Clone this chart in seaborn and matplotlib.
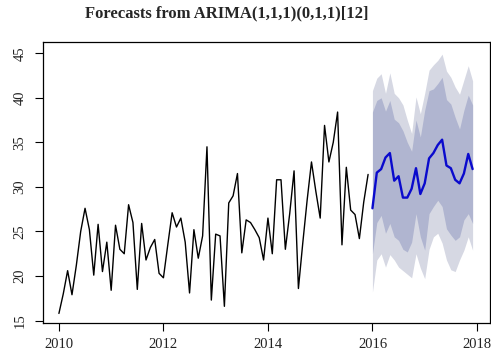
import matplotlib
matplotlib.use('Agg')
import matplotlib.pyplot as plt
import numpy as np
import pandas as pd
import seaborn as sns

# monthly observations, Jan 2010 - Dec 2015
observed = [15.8, 18.0, 20.6, 17.9, 21.2, 25.0, 27.6, 25.2, 20.1, 25.8, 20.5, 23.8,
            18.4, 25.7, 23.0, 22.5, 28.0, 26.0, 18.5, 25.9, 21.8, 23.2, 24.1, 20.3,
            19.8, 23.5, 27.1, 25.5, 26.5, 23.8, 18.1, 25.2, 22.0, 24.5, 34.5, 17.3,
            24.7, 24.5, 16.6, 28.2, 29.0, 31.5, 22.6, 26.3, 26.0, 25.2, 24.3, 21.8,
            26.5, 22.5, 30.8, 30.8, 23.0, 27.0, 31.8, 18.6, 23.7, 28.5, 32.8, 29.5,
            26.5, 36.9, 32.8, 35.0, 38.4, 23.5, 32.2, 27.4, 26.9, 24.2, 28.3, 31.4]

# forecast Jan 2016 - Dec 2017
fc_mean = [27.6, 31.6, 32.0, 33.3, 33.8, 30.7, 31.2, 28.8, 28.8, 29.8, 32.1, 29.2,
           30.4, 33.2, 33.8, 34.7, 35.3, 32.4, 32.1, 30.8, 30.4, 31.5, 33.7, 32.0]
hi80 = [38.4, 39.7, 40.0, 38.5, 39.7, 37.6, 37.2, 36.3, 35.0, 34.0, 37.5, 35.6,
        38.6, 40.8, 41.0, 41.6, 42.3, 39.8, 39.3, 37.8, 36.5, 38.6, 40.3, 39.2]
lo80 = [22.5, 26.0, 26.8, 24.8, 25.9, 24.4, 24.0, 23.0, 22.7, 23.8, 27.0, 24.4,
        22.9, 27.0, 27.8, 28.5, 27.8, 25.3, 24.6, 24.0, 24.4, 26.3, 27.0, 25.9]
hi95 = [40.8, 42.2, 42.7, 40.5, 42.8, 40.5, 40.0, 39.2, 37.5, 36.0, 40.1, 38.2,
        40.5, 43.1, 43.7, 44.2, 44.9, 43.0, 42.3, 41.2, 40.4, 42.0, 43.6, 41.9]
lo95 = [18.2, 21.8, 22.5, 21.0, 22.4, 21.8, 21.0, 20.6, 20.2, 19.8, 22.5, 20.9,
        19.7, 23.0, 24.4, 24.8, 23.7, 21.8, 20.7, 20.5, 21.8, 22.9, 24.4, 22.9]

start_obs = 2010
start_fc = 2016

obs_df = pd.DataFrame({'time': start_obs + np.arange(len(observed)) / 12, 'value': observed})
fc_df = pd.DataFrame({'time': start_fc + np.arange(len(fc_mean)) / 12, 'mean': fc_mean,
                      'lo80': lo80, 'hi80': hi80, 'lo95': lo95, 'hi95': hi95})

sns.set_style('ticks')
plt.rcParams['font.family'] = ['Liberation Serif', 'DejaVu Serif']

fig = plt.figure(figsize=(4.91, 3.56), dpi=100)
ax = fig.add_axes([0.087, 0.092, 0.911, 0.791])

ax.fill_between(fc_df['time'], fc_df['lo95'], fc_df['hi95'], color='#D6D8E3', linewidth=0)
ax.fill_between(fc_df['time'], fc_df['lo80'], fc_df['hi80'], color='#B0B5D0', linewidth=0)

sns.lineplot(data=obs_df, x='time', y='value', ax=ax, color='black', linewidth=1.0,
             estimator=None, sort=False)
sns.lineplot(data=fc_df, x='time', y='mean', ax=ax, color='#0A0ACD', linewidth=1.7,
             estimator=None, sort=False)

ax.set_xlim(2009.69, 2018.25)
ax.set_ylim(14.7, 46.3)
ax.set_xticks([2010, 2012, 2014, 2016, 2018])
ax.set_yticks([15, 20, 25, 30, 35, 40, 45])
ax.set_xlabel('')
ax.set_ylabel('')
for lab in ax.get_yticklabels():
    lab.set_rotation(90)
    lab.set_va('center')
ax.tick_params(axis='both', direction='out', length=5.5, width=0.8, color='black',
               labelsize=10.5, labelcolor='#222222')
ax.tick_params(axis='x', pad=5)
ax.tick_params(axis='y', pad=6)
for s in ax.spines.values():
    s.set_visible(True)
    s.set_color('black')
    s.set_linewidth(0.9)

fig.text(0.462, 0.962, 'Forecasts from ARIMA(1,1,1)(0,1,1)[12]', ha='center', va='center',
         fontsize=12, fontweight='bold')

fig.savefig('out.png', dpi=100)
